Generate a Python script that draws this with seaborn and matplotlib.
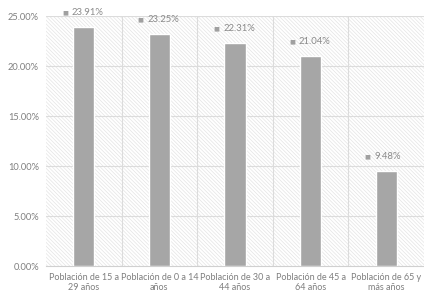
import matplotlib
matplotlib.use("Agg")
import matplotlib.pyplot as plt
from matplotlib.patches import Rectangle
import seaborn as sns
import pandas as pd
import numpy as np

categories = ["Población de 15 a\n29 años", "Población de 0 a 14\naños",
              "Población de 30 a\n44 años", "Población de 45 a\n64 años",
              "Población de 65 y\nmás años"]
values = [23.91, 23.25, 22.31, 21.04, 9.48]
yticks = [0, 5, 10, 15, 20, 25]

sns.set_theme(style="white")
plt.rcParams['font.family'] = ['Lato', 'DejaVu Sans']
plt.rcParams['hatch.linewidth'] = 0.5

df = pd.DataFrame({"cat": categories, "val": values})

fig = plt.figure(figsize=(4.24, 2.97), dpi=100)
ax = fig.add_axes([46/424, 31/297, 378/424, 250/297])

bg = Rectangle((0, 0), 1, 1, transform=ax.transAxes, facecolor='white',
               edgecolor='#e4e4e4', hatch='\\' * 9, lw=0, zorder=0)
ax.add_patch(bg)

sns.barplot(data=df, x="cat", y="val", color="#a6a6a6", width=0.28,
            saturation=1, ax=ax, zorder=3)

ax.set_ylim(0, 25)
ax.set_xlim(-0.5, len(categories) - 0.5)
ax.set_yticks(yticks)
ax.set_yticklabels([f"{t:.2f}%" for t in yticks], fontsize=6.7, color="#7f7f7f")
ax.set_xticks(range(len(categories)))
ax.set_xticklabels(categories, fontsize=6.5, color="#7f7f7f", linespacing=1.15)
ax.tick_params(axis='both', length=0, pad=5)
ax.set_xlabel("")
ax.set_ylabel("")

for t in yticks[1:]:
    ax.axhline(t, color="#dcdcdc", lw=0.8, zorder=1)
for b in np.arange(0.5, len(categories) - 0.5, 1.0):
    ax.axvline(b, color="#dcdcdc", lw=0.8, zorder=1)

for s in ["top", "right", "left"]:
    ax.spines[s].set_visible(False)
ax.spines["bottom"].set_color("#d0d0d0")
ax.spines["bottom"].set_linewidth(0.8)

for i, v in enumerate(values):
    ax.annotate(f"{v:.2f}%", (i, v), xytext=(-8.5, 7), textcoords="offset points",
                ha="left", va="bottom", fontsize=6.8, color="#8a8a8a",
                annotation_clip=False)
    ax.annotate("■", (i, v), xytext=(-13.5, 8.2), textcoords="offset points",
                ha="center", va="bottom", fontsize=4.5, color="#a0a0a0",
                family="DejaVu Sans", annotation_clip=False)

fig.savefig("out.png", dpi=100)
